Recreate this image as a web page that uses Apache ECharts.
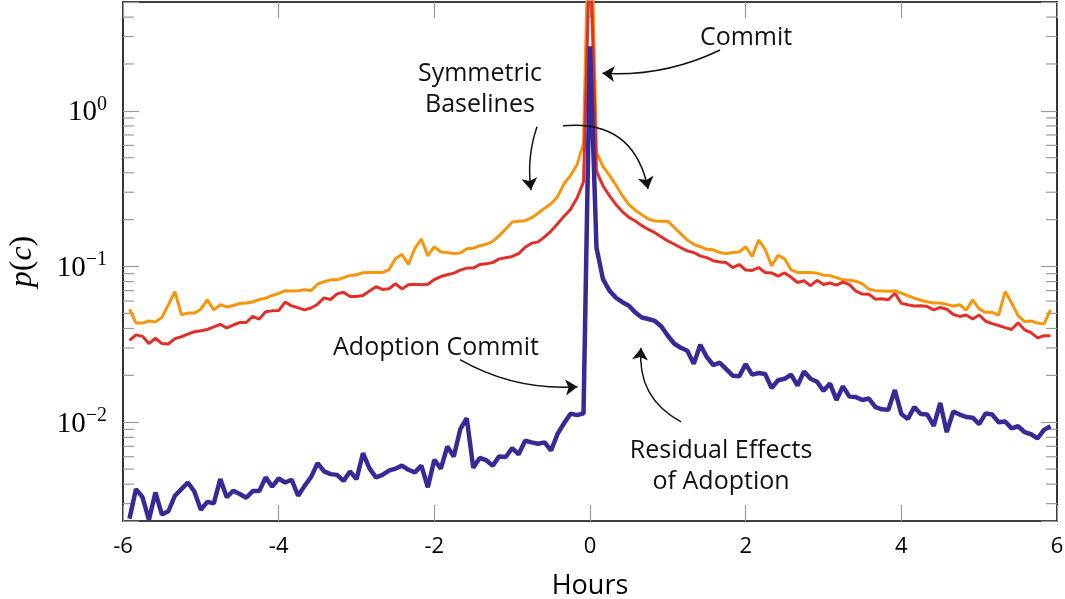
<!DOCTYPE html>
<html><head><meta charset="utf-8">
<script src="https://cdn.jsdelivr.net/npm/echarts@6/dist/echarts.min.js"></script>
<style>html,body{margin:0;padding:0;background:#fff}#c{width:1065px;height:599px}</style>
</head><body><div id="c"></div>
<script>
// minutes relative to the adoption commit (5-minute bins)
const minutes = [-355,-350,-345,-340,-335,-330,-325,-320,-315,-310,-305,-300,-295,-290,-285,-280,-275,-270,-265,-260,-255,-250,-245,-240,-235,-230,-225,-220,-215,-210,-205,-200,-195,-190,-185,-180,-175,-170,-165,-160,-155,-150,-145,-140,-135,-130,-125,-120,-115,-110,-105,-100,-95,-90,-85,-80,-75,-70,-65,-60,-55,-50,-45,-40,-35,-30,-25,-20,-15,-10,-5,0,5,10,15,20,25,30,35,40,45,50,55,60,65,70,75,80,85,90,95,100,105,110,115,120,125,130,135,140,145,150,155,160,165,170,175,180,185,190,195,200,205,210,215,220,225,230,235,240,245,250,255,260,265,270,275,280,285,290,295,300,305,310,315,320,325,330,335,340,345,350,355];

// symmetric baseline (upper, orange)
const baselineUpper = [
0.0532,0.0433,0.0433,0.0447,0.0441,0.0471,0.0568,0.0690,0.0490,0.0502,
0.0502,0.0532,0.0611,0.0527,0.0568,0.0550,0.0562,0.0579,0.0583,0.0592,
0.0614,0.0626,0.0652,0.0671,0.0700,0.0697,0.0700,0.0709,0.0700,0.0770,
0.0799,0.0821,0.0821,0.0848,0.0874,0.0885,0.0912,0.0916,0.0916,0.0916,
0.0953,0.112,0.120,0.103,0.131,0.150,0.117,0.134,0.124,0.123,
0.121,0.122,0.130,0.131,0.136,0.139,0.145,0.158,0.174,0.193,
0.195,0.197,0.206,0.220,0.237,0.253,0.281,0.340,0.384,0.450,
0.62,
40,
0.54,0.44,0.385,0.333,0.285,0.25,0.23,0.215,0.202,0.196,
0.195,0.195,0.178,0.162,0.148,0.139,0.134,0.129,0.128,0.123,
0.121,0.123,0.124,0.134,0.116,0.148,0.129,0.101,0.118,0.112,
0.0953,0.0916,0.0916,0.0916,0.0907,0.088,0.0874,0.0848,0.0821,0.0817,
0.0805,0.0774,0.0716,0.0700,0.0697,0.0693,0.0700,0.0674,0.0649,0.0626,
0.0607,0.0594,0.0583,0.0583,0.0571,0.0557,0.0568,0.0525,0.0611,0.0535,
0.0508,0.0508,0.0488,0.0690,0.0583,0.0484,0.0443,0.0447,0.0433,0.0428,
0.0527];

// symmetric baseline (lower, red)
const baselineLower = [
0.0335,0.0364,0.0356,0.0320,0.0346,0.0320,0.0318,0.0344,0.0354,0.0368,
0.0381,0.0387,0.0394,0.0409,0.0425,0.0403,0.0421,0.0437,0.0437,0.0478,
0.0460,0.0512,0.0519,0.0522,0.0591,0.0559,0.0543,0.0527,0.0541,0.0573,
0.0629,0.0614,0.0667,0.0684,0.0641,0.0641,0.0651,0.0697,0.0742,0.0712,
0.0720,0.0775,0.0718,0.0763,0.0770,0.0763,0.0770,0.0825,0.0862,0.0885,
0.0907,0.0948,0.0977,0.0977,0.103,0.104,0.106,0.112,0.114,0.116,
0.121,0.133,0.141,0.144,0.155,0.169,0.188,0.210,0.233,0.275,
0.35,
12,
0.41,0.33,0.285,0.25,0.225,0.207,0.196,0.183,0.173,0.165,
0.155,0.146,0.139,0.132,0.126,0.123,0.117,0.114,0.109,0.107,
0.106,0.0985,0.103,0.095,0.0943,0.0985,0.0916,0.091,0.0868,0.091,
0.0853,0.079,0.081,0.0753,0.0815,0.0766,0.0784,0.076,0.0795,0.0765,
0.0694,0.0665,0.0663,0.0617,0.062,0.0612,0.0673,0.058,0.0568,0.0557,
0.0559,0.0553,0.0527,0.0546,0.0532,0.0492,0.0478,0.0488,0.0460,0.0488,
0.0445,0.0430,0.0418,0.0405,0.0394,0.0435,0.0392,0.0376,0.0348,0.0359,
0.0359];

// adoption commit series (blue)
const adoption = [
0.0024,0.00372,0.0033,0.00236,0.00354,0.00255,0.00268,0.00337,0.00372,0.0041,
0.00359,0.00274,0.00308,0.00301,0.00431,0.0033,0.00363,0.00346,0.00327,0.00361,
0.00361,0.00442,0.00386,0.00435,0.0041,0.00427,0.00337,0.0039,0.00445,0.00546,
0.00483,0.00464,0.00459,0.0042,0.00483,0.00431,0.00632,0.00505,0.00442,0.00459,
0.00488,0.00503,0.00526,0.00495,0.00476,0.00526,0.00382,0.00574,0.00503,0.00698,
0.00603,0.00902,0.0106,0.0051,0.00589,0.0057,0.00526,0.00603,0.00598,0.00681,
0.00622,0.0076,0.00742,0.00727,0.00742,0.00658,0.00842,0.00985,0.01135,0.0111,
0.0114,
2.6,
0.132,0.083,0.07,0.063,0.059,0.056,0.0506,0.047,0.046,0.0447,
0.0412,0.0359,0.0319,0.0301,0.0288,0.0237,0.0314,0.0263,0.0233,0.0241,
0.0219,0.0199,0.0197,0.0236,0.0202,0.0207,0.0204,0.0166,0.0186,0.019,
0.0202,0.0172,0.0212,0.019,0.0182,0.0159,0.0177,0.0139,0.017,0.0146,
0.0145,0.0139,0.0142,0.0125,0.0121,0.012,0.0161,0.0113,0.0105,0.0125,
0.0113,0.0112,0.00947,0.0133,0.00863,0.0117,0.0112,0.0108,0.0107,0.00973,
0.0114,0.0112,0.01,0.0101,0.00913,0.00942,0.00863,0.00837,0.00788,0.00893,
0.00942];

// log-axis minor tick values
const minorTickValues = [0.003,0.004,0.005,0.006,0.007,0.008,0.009,0.02,0.03,0.04,0.05,0.06,0.07,0.08,0.09,0.2,0.3,0.4,0.5,0.6,0.7,0.8,0.9,2,3,4];

// annotations (data coordinates: hours, p(c))
const noteTexts = ['Commit', 'Symmetric\nBaselines', 'Adoption Commit', 'Residual Effects\nof Adoption'];
const noteAt = [[2.005, 2.94], [-1.414, 1.364], [-1.979, 0.030], [1.684, 0.00517]];
const arrowFrom = [[1.671, 2.46], [-0.681, 0.789], [-0.347, 0.801], [-1.671, 0.0252], [1.170, 0.01006]];
const arrowTo = [[0.160, 1.74], [-0.758, 0.31], [0.746, 0.315], [-0.16, 0.01688], [0.656, 0.0300]];
const arrowBend = [0.13, -0.12, 0.45, -0.15, 0.33];

const xMin = -6, xMax = 6, xStep = 2;
const yMin = 0.00232, yMax = 5;

const hours = minutes.map(m => m / 60);
const pairs = arr => hours.map((h, i) => [h, arr[i]]);

const serif = "'Liberation Serif', 'DejaVu Serif', serif";
const sans = "'Open Sans', 'Lato', sans-serif";
const ORANGE = '#F5960D', RED = '#E0302A', BLUE = '#382A96';
const tickStyle = {show: true, inside: true, length: 16, lineStyle: {color: '#9a9a9a', width: 1.2}};
const frameLine = {show: true, onZero: false, lineStyle: {color: '#000', width: 1.6}};

function yLabel(v) {
  const e = Math.log10(v);
  const r = Math.round(e);
  if (Math.abs(e - r) > 1e-6) return '';
  return '{b|10}{s|' + (r < 0 ? '\u2212' + (-r) : String(r)) + '}';
}

const chart = echarts.init(document.getElementById('c'), null, {renderer: 'canvas', width: 1065, height: 599});
chart.setOption({
  animation: false,
  backgroundColor: '#fff',
  grid: {left: 123, right: 8, top: 2, bottom: 78, containLabel: false, outerBoundsMode: 'none'},
  xAxis: [
    {type: 'value', min: xMin, max: xMax, interval: xStep, position: 'bottom',
     axisLine: frameLine, axisTick: tickStyle, splitLine: {show: false},
     axisLabel: {fontFamily: sans, fontSize: 22, color: '#000', margin: 15},
     name: 'Hours', nameLocation: 'middle', nameGap: 52,
     nameTextStyle: {fontFamily: sans, fontSize: 27, color: '#000'}},
    {type: 'value', min: xMin, max: xMax, interval: xStep, position: 'top',
     axisLine: frameLine, axisTick: tickStyle, splitLine: {show: false}, axisLabel: {show: false}}
  ],
  yAxis: [
    {type: 'log', logBase: 10, min: yMin, max: yMax, position: 'left',
     axisLine: frameLine, axisTick: tickStyle, splitLine: {show: false},
     axisLabel: {formatter: yLabel, margin: 16,
       rich: {b: {fontFamily: serif, fontSize: 29, color: '#000', verticalAlign: 'bottom'},
              s: {fontFamily: serif, fontSize: 20, color: '#000', verticalAlign: 'bottom', padding: [0, 0, 13, 0]}}},
     name: '{i|p}{r|(}{i|c}{r|)}', nameLocation: 'middle', nameGap: 84, nameRotate: 90,
     nameTextStyle: {fontFamily: serif, fontSize: 31, color: '#000',
       rich: {i: {fontFamily: serif, fontStyle: 'italic', fontSize: 32, color: '#000'},
              r: {fontFamily: serif, fontSize: 32, color: '#000'}}}},
    {type: 'log', logBase: 10, min: yMin, max: yMax, position: 'right',
     axisLine: frameLine, axisTick: tickStyle, splitLine: {show: false}, axisLabel: {show: false}}
  ],
  series: [
    {type: 'custom', name: 'minorTicks', xAxisIndex: 0, yAxisIndex: 0, silent: true, z: 1,
     data: minorTickValues.map(v => [xMin, v]),
     renderItem: (params, api) => {
       const v = api.value(1);
       const l = api.coord([xMin, v]);
       const r = api.coord([xMax, v]);
       return {type: 'group', children: [
         {type: 'line', shape: {x1: l[0], y1: l[1], x2: l[0] + 11, y2: l[1]}, style: {stroke: '#9a9a9a', lineWidth: 1.2}},
         {type: 'line', shape: {x1: r[0] - 11, y1: r[1], x2: r[0], y2: r[1]}, style: {stroke: '#9a9a9a', lineWidth: 1.2}}
       ]};
     }},
    {type: 'line', name: 'Baseline (upper)', data: pairs(baselineUpper), showSymbol: false, symbol: 'none',
     lineStyle: {color: ORANGE, width: 3}, itemStyle: {color: ORANGE}, silent: true, z: 2,
     markPoint: {silent: true, symbol: 'circle', symbolSize: 1, itemStyle: {color: 'rgba(0,0,0,0)'},
       data: noteTexts.map((t, i) => ({coord: noteAt[i], value: t,
         label: {show: true, position: 'inside', formatter: t, fontFamily: sans, fontSize: 25,
                 color: '#111', lineHeight: 31, align: 'center', verticalAlign: 'middle'}}))}},
    {type: 'line', name: 'Baseline (lower)', data: pairs(baselineLower), showSymbol: false, symbol: 'none',
     lineStyle: {color: RED, width: 3}, itemStyle: {color: RED}, silent: true, z: 3},
    {type: 'line', name: 'Adoption', data: pairs(adoption), showSymbol: false, symbol: 'none',
     lineStyle: {color: BLUE, width: 4.5}, itemStyle: {color: BLUE}, silent: true, z: 4},
    {type: 'lines', coordinateSystem: 'cartesian2d', xAxisIndex: 0, yAxisIndex: 0, silent: true, z: 5,
     symbol: ['none', 'arrow'], symbolSize: 12,
     lineStyle: {color: '#111', width: 1.5, opacity: 1},
     data: arrowFrom.map((f, i) => ({coords: [f, arrowTo[i]], lineStyle: {curveness: arrowBend[i], color: '#111', width: 1.5}}))}
  ]
});
</script>
</body></html>
